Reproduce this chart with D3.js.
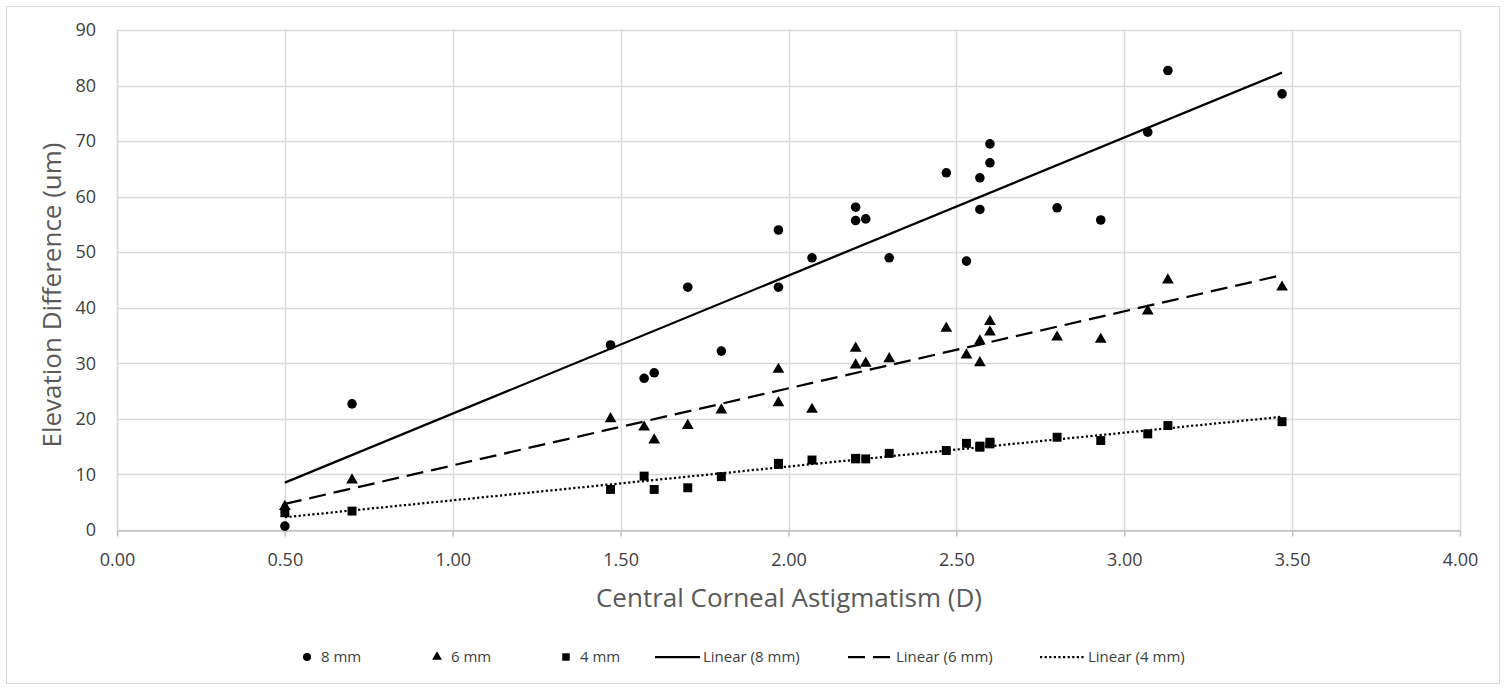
<!DOCTYPE html>
<html><head><meta charset="utf-8">
<script src="https://cdn.jsdelivr.net/npm/d3@7"></script>
<style>
html,body{margin:0;padding:0;background:#fff;}
svg{display:block;font-family:"Open Sans",sans-serif;}
</style></head>
<body>
<svg id="chart" width="1506" height="690"></svg>
<script>
// Data
const xTickLabels = ["0.00","0.50","1.00","1.50","2.00","2.50","3.00","3.50","4.00"];
const yTickLabels = [0,10,20,30,40,50,60,70,80,90];
const astig = [0.50,0.70,1.47,1.57,1.60,1.70,1.80,1.97,1.97,2.07,2.20,2.20,2.23,2.30,2.47,2.53,2.57,2.57,2.60,2.60,2.80,2.93,3.07,3.13,3.47];
const elev8 = [0.7,22.7,33.3,27.3,28.3,43.7,32.2,54.0,43.7,49.0,58.1,55.7,56.0,49.0,64.3,48.4,63.4,57.7,69.5,66.1,58.0,55.8,71.6,82.7,78.5];
const elev6 = [4.2,9.0,20.0,18.5,16.2,18.8,21.6,28.9,22.9,21.7,32.7,29.7,30.0,30.8,36.3,31.5,34.0,30.1,37.5,35.6,34.7,34.3,39.4,45.0,43.7];
const elev4 = [3.1,3.4,7.3,9.7,7.3,7.6,9.6,12.0,11.8,12.6,12.9,12.8,12.8,13.8,14.3,15.6,15.1,14.9,15.8,15.5,16.7,16.1,17.3,18.8,19.5];
const seriesNames = ["8 mm","6 mm","4 mm"];
const trendNames = ["Linear (8 mm)","Linear (6 mm)","Linear (4 mm)"];

const svg = d3.select("#chart");
const m = {left:117, right:1460, top:30, bottom:530};

// outer border
svg.append("rect").attr("x",6.5).attr("y",6.5).attr("width",1493).attr("height",677)
  .attr("fill","#fff").attr("stroke","#d9d9d9").attr("stroke-width",1);

const x = d3.scaleLinear().domain([0,4]).range([m.left,m.right]);
const y = d3.scaleLinear().domain([0,90]).range([m.bottom,m.top]);

// gridlines
const g = svg.append("g");
g.selectAll("line.vg").data(xTickLabels).join("line")
  .attr("x1",d=>Math.round(x(+d))+0.5).attr("x2",d=>Math.round(x(+d))+0.5)
  .attr("y1",m.top).attr("y2",m.bottom)
  .attr("stroke","#d9d9d9").attr("stroke-width",1.5);
g.selectAll("line.hg").data(yTickLabels).join("line")
  .attr("x1",m.left).attr("x2",m.right)
  .attr("y1",d=>Math.round(y(d))+0.5).attr("y2",d=>Math.round(y(d))+0.5)
  .attr("stroke","#d9d9d9").attr("stroke-width",1.5);

// x axis
const xAxis = d3.axisBottom(x).tickValues(xTickLabels.map(Number)).tickFormat(d3.format(".2f")).tickSize(6).tickSizeOuter(0);
const xa = svg.append("g").attr("transform",`translate(0,${m.bottom+0.5})`).call(xAxis);
xa.select(".domain").attr("stroke","#bfbfbf").attr("stroke-width",1.5);
xa.selectAll(".tick line").attr("stroke","#bfbfbf").attr("stroke-width",1.5);
xa.selectAll(".tick text").attr("fill","#404040").attr("font-size",18).attr("dy","0").attr("y",35)
  .attr("font-family","Open Sans");

// y axis labels
const yAxis = d3.axisLeft(y).tickValues(yTickLabels).tickSize(0).tickPadding(21);
const ya = svg.append("g").attr("transform",`translate(${m.left},0)`).call(yAxis);
ya.select(".domain").attr("stroke","#d9d9d9").attr("stroke-width",1.5);
ya.selectAll(".tick text").attr("fill","#404040").attr("font-size",18).attr("font-family","Open Sans");

// axis titles
svg.append("text").attr("x",789).attr("y",607).attr("text-anchor","middle")
  .attr("font-size",26).attr("fill","#595959").text("Central Corneal Astigmatism (D)");
svg.append("text").attr("transform","translate(61,295) rotate(-90)").attr("text-anchor","middle")
  .attr("font-size",26).attr("fill","#595959").text("Elevation Difference (um)");

// regression
function fit(xs, ys){
  const mx=d3.mean(xs), my=d3.mean(ys);
  let sxy=0,sxx=0;
  xs.forEach((v,i)=>{sxy+=(v-mx)*(ys[i]-my); sxx+=(v-mx)*(v-mx);});
  const b=sxy/sxx; return {a:my-b*mx,b};
}
const allSeries = [elev8, elev6, elev4];
const dashes = [null, "17,8", "2.2,2.4"];
const xmin = d3.min(astig), xmax = d3.max(astig);
allSeries.forEach((ys,i)=>{
  const f = fit(astig, ys);
  const pts = [xmin,xmax].map(v=>[v, f.a+f.b*v]);
  svg.append("path").datum(pts)
    .attr("d", d3.line().x(d=>x(d[0])).y(d=>y(d[1])))
    .attr("fill","none").attr("stroke","#000").attr("stroke-width",2.25)
    .attr("stroke-dasharray",dashes[i]);
});

// markers
const symTypes = [d3.symbolCircle, d3.symbolTriangle, d3.symbolSquare];
const symSizes = [72, 60, 80];
allSeries.forEach((ys,i)=>{
  const sym = d3.symbol().type(symTypes[i]).size(symSizes[i]);
  svg.append("g").selectAll("path").data(astig.map((v,j)=>[v,ys[j]])).join("path")
    .attr("transform",d=>`translate(${x(d[0])},${y(d[1])})`)
    .attr("d",sym).attr("fill","#000");
});

// legend
const leg = svg.append("g");
const legY = 657;
const markerX = [307, 437, 566];
markerX.forEach((mx,i)=>{
  leg.append("path").attr("transform",`translate(${mx},${legY})`)
    .attr("d", d3.symbol().type(symTypes[i]).size(symSizes[i]*0.7)).attr("fill","#000");
  leg.append("text").attr("x",mx+14).attr("y",legY+5).attr("font-size",15).attr("fill","#404040").text(seriesNames[i]);
});
const lineX = [655, 848, 1040];
lineX.forEach((lx,i)=>{
  leg.append("line").attr("x1",lx).attr("x2",lx+45).attr("y1",legY).attr("y2",legY)
    .attr("stroke","#000").attr("stroke-width",2.25).attr("stroke-dasharray",dashes[i]);
  leg.append("text").attr("x",lx+48).attr("y",legY+5).attr("font-size",15).attr("fill","#404040").text(trendNames[i]);
});
</script>
</body></html>
